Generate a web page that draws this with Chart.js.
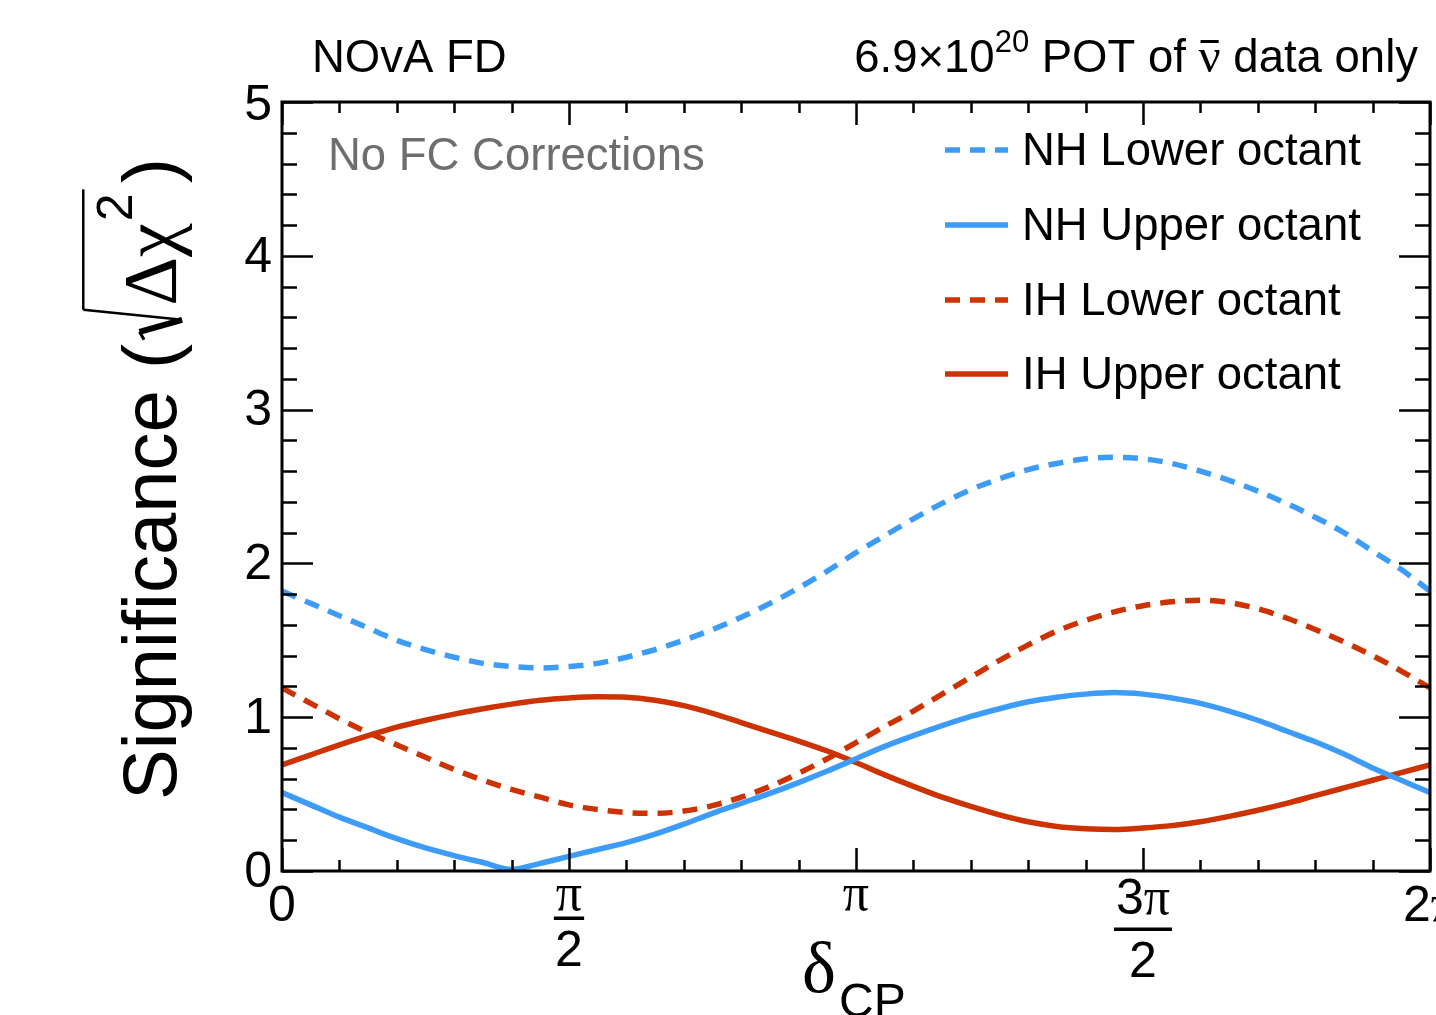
<!DOCTYPE html>
<html>
<head>
<meta charset="utf-8">
<script src="https://cdn.jsdelivr.net/npm/chart.js@4.4.1/dist/chart.umd.min.js"></script>
<style>
  html, body { margin: 0; padding: 0; background: #fff; }
  #wrap { width: 1436px; height: 1015px; }
</style>
</head>
<body>
<div id="wrap"><canvas id="sigChart" width="1436" height="1015"></canvas></div>
<script>
// delta_CP in units of pi
const deltaCP = [0, 0.05, 0.1, 0.15, 0.2, 0.25, 0.3, 0.35, 0.4, 0.45, 0.5,
                 0.55, 0.6, 0.65, 0.7, 0.75, 0.8, 0.85, 0.9, 0.95, 1.0,
                 1.05, 1.1, 1.15, 1.2, 1.25, 1.3, 1.35, 1.4, 1.45, 1.5,
                 1.55, 1.6, 1.65, 1.7, 1.75, 1.8, 1.85, 1.9, 1.95, 2.0];

const nhLower = [1.82, 1.74, 1.66, 1.58, 1.50, 1.44, 1.39, 1.35, 1.33, 1.32, 1.33,
                 1.35, 1.39, 1.44, 1.50, 1.57, 1.65, 1.74, 1.84, 1.95, 2.07,
                 2.18, 2.29, 2.39, 2.48, 2.55, 2.61, 2.65, 2.68, 2.69, 2.68,
                 2.65, 2.60, 2.54, 2.47, 2.39, 2.30, 2.20, 2.08, 1.96, 1.82];

const nhUpper = [0.51, 0.43, 0.35, 0.28, 0.21, 0.15, 0.10, 0.055, 0.01, 0.05, 0.095,
                 0.14, 0.185, 0.24, 0.305, 0.375, 0.44, 0.505, 0.575, 0.65, 0.73,
                 0.81, 0.88, 0.945, 1.005, 1.055, 1.10, 1.13, 1.15, 1.16, 1.15,
                 1.125, 1.09, 1.04, 0.98, 0.91, 0.84, 0.76, 0.67, 0.59, 0.51];

const ihLower = [1.19, 1.09, 0.99, 0.90, 0.82, 0.74, 0.66, 0.59, 0.53, 0.48, 0.43,
                 0.40, 0.38, 0.375, 0.39, 0.425, 0.48, 0.55, 0.635, 0.73, 0.835,
                 0.94, 1.04, 1.15, 1.26, 1.37, 1.47, 1.56, 1.63, 1.685, 1.725,
                 1.75, 1.76, 1.745, 1.705, 1.645, 1.57, 1.49, 1.40, 1.30, 1.19];

const ihUpper = [0.69, 0.755, 0.82, 0.88, 0.935, 0.98, 1.02, 1.055, 1.085, 1.11, 1.125,
                 1.133, 1.13, 1.11, 1.075, 1.025, 0.965, 0.905, 0.845, 0.78, 0.705,
                 0.625, 0.55, 0.48, 0.42, 0.365, 0.32, 0.29, 0.275, 0.27, 0.28,
                 0.295, 0.32, 0.355, 0.395, 0.44, 0.49, 0.54, 0.59, 0.64, 0.69];

const seriesLabels = ['NH Lower octant', 'NH Upper octant', 'IH Lower octant', 'IH Upper octant'];

const yTicks = [0, 1, 2, 3, 4, 5];
const xTickPos = [0, 0.5, 1, 1.5, 2];
const xTickLabels = [['0'], ['π', '2'], ['π'], ['3π', '2'], ['2π']];

const BLUE = '#3d9cf9';
const RED = '#cc3300';
const SANS = '"Liberation Sans", Arial, sans-serif';
const SERIF = '"Liberation Serif", "Times New Roman", serif';
const TXT = '45.5px ' + SANS;

function pts(arr) {
    return deltaCP.map((x, i) => ({ x: x, y: arr[i] }));
}

// draws frame, inward ticks, labels, titles and legend (ROOT look)
const rootStyle = {
    id: 'rootStyle',
    afterDraw(chart) {
        const ctx = chart.ctx;
        const xs = chart.scales.x, ys = chart.scales.y;
        const L = xs.left, R = xs.right, T = ys.top, B = ys.bottom;
        ctx.save();
        ctx.strokeStyle = '#000';
        ctx.fillStyle = '#000';

        // ticks
        ctx.lineWidth = 2.5;
        ctx.beginPath();
        for (let k = 0; k <= 20; k++) {
            const v = k / 10;
            const px = Math.round(xs.getPixelForValue(v)) + 0.5;
            const len = (k % 5 === 0) ? 23 : 11;
            ctx.moveTo(px, B); ctx.lineTo(px, B - len);
            ctx.moveTo(px, T); ctx.lineTo(px, T + len);
        }
        for (let k = 0; k <= 25; k++) {
            const v = k / 5;
            const py = Math.round(ys.getPixelForValue(v)) + 0.5;
            const len = (k % 5 === 0) ? 31 : 15;
            ctx.moveTo(L, py); ctx.lineTo(L + len, py);
            ctx.moveTo(R, py); ctx.lineTo(R - len, py);
        }
        ctx.stroke();

        // frame
        ctx.lineWidth = 3;
        ctx.strokeRect(L, T, R - L, B - T);

        // y tick labels
        ctx.font = '50px ' + SANS;
        ctx.textAlign = 'right';
        ctx.textBaseline = 'middle';
        yTicks.forEach(v => {
            const py = ys.getPixelForValue(v);
            ctx.fillText(String(v), L - 10, py + (v === 5 ? 4 : 2));
        });

        // x tick labels
        ctx.textAlign = 'center';
        ctx.textBaseline = 'alphabetic';
        xTickPos.forEach((v, i) => {
            const px = xs.getPixelForValue(v);
            const lab = xTickLabels[i];
            if (lab.length === 1) {
                const t = lab[0];
                if (t === 'π') {
                    ctx.font = '52px ' + SERIF;
                    ctx.fillText(t, px, 910);
                } else if (t === '2π') {
                    ctx.font = '50px ' + SANS;
                    const w2 = ctx.measureText('2').width;
                    ctx.font = '52px ' + SERIF;
                    const wp = ctx.measureText('π').width;
                    const x0 = px - (w2 + wp) / 2;
                    ctx.textAlign = 'left';
                    ctx.font = '50px ' + SANS;
                    ctx.fillText('2', x0, 921);
                    ctx.font = '52px ' + SERIF;
                    ctx.fillText('π', x0 + w2, 921);
                    ctx.textAlign = 'center';
                } else {
                    ctx.font = '50px ' + SANS;
                    ctx.fillText(t, px, 921);
                }
            } else {
                const top = lab[0], bot = lab[1];
                const lower = top.length > 1;
                const numBase = lower ? 914 : 910;
                const barY = lower ? 929 : 918;
                const denBase = lower ? 977 : 966;
                let w;
                if (lower) {
                    ctx.font = '50px ' + SANS;
                    const w3 = ctx.measureText(top[0]).width;
                    ctx.font = '52px ' + SERIF;
                    const wp = ctx.measureText('π').width;
                    w = w3 + wp;
                    ctx.textAlign = 'left';
                    ctx.font = '50px ' + SANS;
                    ctx.fillText(top[0], px - w / 2, numBase);
                    ctx.font = '52px ' + SERIF;
                    ctx.fillText('π', px - w / 2 + w3, numBase);
                    ctx.textAlign = 'center';
                } else {
                    ctx.font = '52px ' + SERIF;
                    w = ctx.measureText(top).width;
                    ctx.fillText(top, px, numBase);
                }
                ctx.fillRect(px - w / 2 - 2, barY - 1.5, w + 4, 3.5);
                ctx.font = '50px ' + SANS;
                ctx.fillText(bot, px, denBase);
            }
        });

        // x title: delta_CP
        ctx.textAlign = 'left';
        ctx.font = '72px ' + SERIF;
        ctx.fillText('δ', 802, 992);
        ctx.font = '48px ' + SANS;
        ctx.fillText('CP', 839, 1017);

        // y title, rotated
        ctx.save();
        ctx.translate(176, 800);
        ctx.rotate(-Math.PI / 2);
        ctx.font = '76px ' + SANS;
        const part1 = 'Significance (';
        ctx.fillText(part1, 0, 0);
        let cx = ctx.measureText(part1).width + 4;
        const fs = 76;
        ctx.lineWidth = 3;
        ctx.beginPath();
        ctx.moveTo(cx, -0.42 * fs);
        ctx.lineTo(cx + 8, -0.48 * fs);
        ctx.stroke();
        ctx.lineWidth = 6;
        ctx.beginPath();
        ctx.moveTo(cx + 8, -0.48 * fs);
        ctx.lineTo(cx + 20, 0.08 * fs);
        ctx.stroke();
        ctx.lineWidth = 2.5;
        ctx.beginPath();
        ctx.moveTo(cx + 20, 0.08 * fs);
        ctx.lineTo(cx + 30, -1.22 * fs);
        ctx.stroke();
        const rStart = cx + 30;
        cx += 34;
        ctx.font = '76px ' + SERIF;
        ctx.fillText('Δχ', cx, 0);
        cx += ctx.measureText('Δχ').width + 2;
        ctx.font = '50px ' + SANS;
        ctx.fillText('2', cx, -0.58 * fs);
        cx += ctx.measureText('2').width + 4;
        ctx.beginPath();
        ctx.moveTo(rStart, -1.22 * fs);
        ctx.lineTo(cx, -1.22 * fs);
        ctx.stroke();
        ctx.font = '76px ' + SANS;
        ctx.fillText(')', cx + 6, 0);
        ctx.restore();

        // header texts
        ctx.font = TXT;
        ctx.fillText('NOvA FD', 312, 72);

        const sup = '20';
        const pA = '6.9×10', pB = ' POT of ', pC = ' data only';
        ctx.font = TXT;
        const wA = ctx.measureText(pA).width, wB = ctx.measureText(pB).width, wC = ctx.measureText(pC).width;
        ctx.font = '31px ' + SANS;
        const wS = ctx.measureText(sup).width;
        ctx.font = '49px ' + SERIF;
        const wN = ctx.measureText('ν').width;
        let hx = 1418 - (wA + wS + wB + wN + wC);
        ctx.font = TXT;
        ctx.fillText(pA, hx, 72); hx += wA;
        ctx.font = '31px ' + SANS;
        ctx.fillText(sup, hx, 52); hx += wS;
        ctx.font = TXT;
        ctx.fillText(pB, hx, 72); hx += wB;
        ctx.font = '49px ' + SERIF;
        ctx.fillText('ν', hx, 72);
        ctx.fillRect(hx + 2, 40, wN - 4, 3);
        hx += wN;
        ctx.font = TXT;
        ctx.fillText(pC, hx, 72);

        // annotation
        ctx.fillStyle = '#6e6e6e';
        ctx.fillText('No FC Corrections', 328, 170);

        // legend
        ctx.fillStyle = '#000';
        ctx.textBaseline = 'middle';
        const rows = [150, 225, 300, 374];
        chart.data.datasets.forEach((ds, i) => {
            const y = rows[i];
            ctx.save();
            ctx.strokeStyle = ds.borderColor;
            ctx.lineWidth = ds.borderWidth;
            ctx.setLineDash(ds.borderDash || []);
            ctx.beginPath();
            ctx.moveTo(945, y); ctx.lineTo(1008, y);
            ctx.stroke();
            ctx.restore();
            ctx.font = TXT;
            ctx.fillText(ds.label, 1022, y + 2);
        });
        ctx.restore();
    }
};

new Chart(document.getElementById('sigChart'), {
    type: 'line',
    data: {
        datasets: [
            { label: seriesLabels[0], data: pts(nhLower), borderColor: BLUE, borderWidth: 5.5, borderDash: [15, 10] },
            { label: seriesLabels[1], data: pts(nhUpper), borderColor: BLUE, borderWidth: 5.5 },
            { label: seriesLabels[2], data: pts(ihLower), borderColor: RED, borderWidth: 5.5, borderDash: [15, 10] },
            { label: seriesLabels[3], data: pts(ihUpper), borderColor: RED, borderWidth: 5.5 }
        ]
    },
    options: {
        responsive: false,
        devicePixelRatio: 1,
        animation: false,
        layout: { padding: { left: 282, right: 6, top: 102, bottom: 144 } },
        elements: {
            point: { radius: 0 },
            line: { cubicInterpolationMode: 'monotone', fill: false }
        },
        scales: {
            x: { type: 'linear', min: 0, max: 2, display: false },
            y: { min: 0, max: 5, display: false }
        },
        plugins: {
            legend: { display: false },
            tooltip: { enabled: false }
        }
    },
    plugins: [rootStyle]
});
</script>
</body>
</html>
